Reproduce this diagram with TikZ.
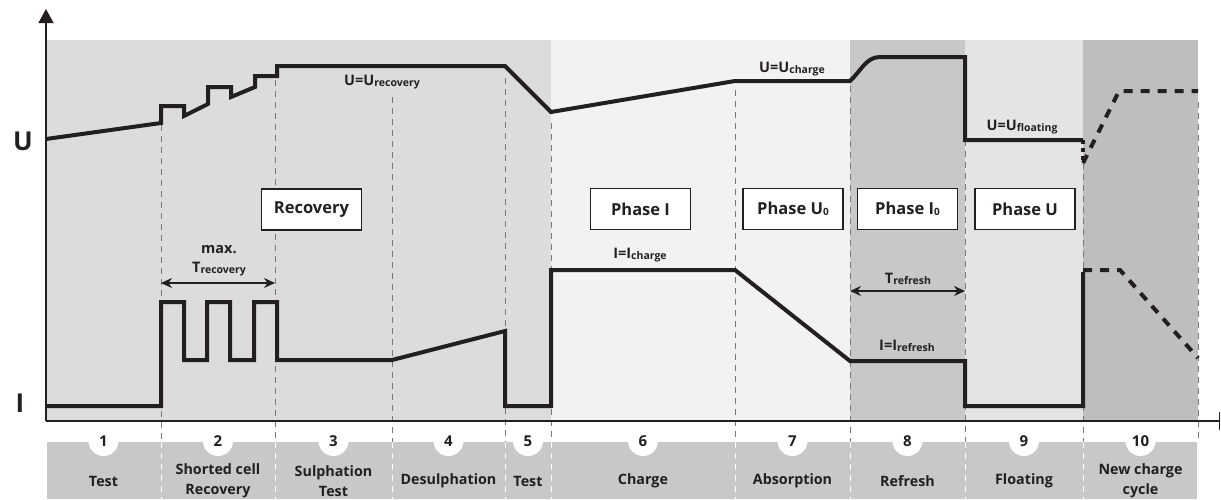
\documentclass[tikz,border=0pt]{standalone}
\usepackage{fontspec}
\setmainfont{Open Sans}
\usetikzlibrary{arrows.meta}
\definecolor{ink}{RGB}{35,31,32}
\definecolor{bgA}{RGB}{220,220,220}
\definecolor{bgB}{RGB}{242,242,242}
\definecolor{bgC}{RGB}{200,200,200}
\definecolor{bgD}{RGB}{228,228,228}
\definecolor{bgE}{RGB}{190,190,190}
\definecolor{barcol}{RGB}{200,200,200}
\definecolor{guidecol}{RGB}{120,120,120}
\newcommand{\lowtxt}[1]{{\fontsize{10.5}{11}\selectfont\raisebox{-0.8pt}{#1}}}
\newcommand{\lowbox}[1]{{\fontsize{10}{11}\selectfont\raisebox{-1.5pt}{#1}}}
\tikzset{
  curve/.style={line width=4pt, draw=ink, line join=miter},
  dashcurve/.style={curve, dash pattern=on 9pt off 8pt},
  dotcurve/.style={curve, dash pattern=on 4pt off 4pt},
  guide/.style={draw=guidecol, line width=1pt, dash pattern=on 6pt off 5pt},
  guidewhite/.style={draw=white, line width=1pt, dash pattern=on 6pt off 5pt},
  axisline/.style={draw=ink, line width=1.5pt},
  phasebox/.style={draw=ink, fill=white, line width=1.3pt, minimum width=100pt, minimum height=41pt, inner sep=0pt, text=ink, font=\fontsize{16.5}{16.5}\selectfont\bfseries},
  numcirc/.style={circle, fill=white, minimum size=30pt, inner sep=0pt, text=ink, font=\fontsize{15}{15}\selectfont\bfseries},
  barlabel/.style={align=center, text=ink, inner sep=0pt, font=\fontsize{14.3}{20}\selectfont\bfseries},
  curvelabel/.style={text=ink, inner sep=0pt, font=\fontsize{14.5}{16}\selectfont\bfseries},
  axislabel/.style={text=ink, inner sep=0pt, font=\fontsize{26}{26}\selectfont\bfseries},
  span/.style={draw=ink, line width=1.2pt, {Stealth[length=11pt,width=10pt]}-{Stealth[length=11pt,width=10pt]}},
}
\begin{document}
\begin{tikzpicture}[x=1pt,y=-1pt]
\useasboundingbox (0,0) rectangle (1221,499);
% region backgrounds
\fill[bgA] (46,40) rectangle (551,421);
\fill[bgB] (551,40) rectangle (850,421);
\fill[bgC] (850,40) rectangle (965,421);
\fill[bgD] (965,40) rectangle (1083,421);
\fill[bgE] (1083,40) rectangle (1198,421);
% bottom bar
\fill[barcol] (47,442) rectangle (1197,499);
% guide lines
\foreach \x/\y in {161/125, 275/80, 392/97, 505/78, 551/123, 735/90, 850/86, 965/140, 1083/163, 1198/102}{
  \draw[guide] (\x,\y) -- (\x,442);
}
\foreach \x in {161, 275, 392, 505, 551, 735, 850, 965, 1083}{
  \draw[guidewhite] (\x,442) -- (\x,499);
}
% axes
\coordinate (origin) at (46,421);
\coordinate (ytop) at (46,9);
\coordinate (xend) at (1220,421);
\draw[axisline, -{Triangle[width=15pt,length=14pt]}] (origin) -- (ytop);
\draw[axisline, -{Bar[width=18pt]}] (origin) -- (xend);
\node[axislabel] (ulab) at (23,141) {U};
\node[axislabel] (ilab) at (20,403) {I};
% phase boxes
\node[phasebox] (recbox) at (311.5,209.5) {Recovery};
\node[phasebox] (ph1) at (640.5,209) {Phase I};
\node[phasebox] (ph2) at (793,209) {Phase U\lowbox{0}};
\node[phasebox] (ph3) at (907.5,209) {Phase I\lowbox{0}};
\node[phasebox] (ph4) at (1025,209) {Phase U};
% voltage curve
\draw[curve] (46,139) -- (161,123) -- (161,106) -- (184,106) -- (184,116) -- (208,104) -- (208,87) -- (231,87) -- (231,97) -- (255,87) -- (255,76) -- (277,76) -- (277,66) -- (505,66) -- (551,112) -- (735,81) -- (850,81) .. controls (861,71) and (866,57) .. (880,57) -- (965,57) -- (965,140) -- (1083,140);
\draw[dotcurve] (1083,140) -- (1083,164);
\draw[dashcurve] (1083,163) -- (1119,91) -- (1198,91);
% current curve
\draw[curve] (46,406) -- (161,406) -- (161,302) -- (184,302) -- (184,360) -- (207,360) -- (207,302) -- (230,302) -- (230,360) -- (254,360) -- (254,302) -- (277,302) -- (277,360) -- (392,360) -- (505,331) -- (505,406) -- (551,406) -- (551,270) -- (735,270) -- (850,361) -- (965,361) -- (965,406) -- (1083,406) -- (1083,272);
\draw[dashcurve] (1083,270) -- (1120,270) -- (1198,358);
% curve labels
\node[curvelabel] (urec) at (382,82) {U=U\lowtxt{recovery}};
\node[curvelabel] (uchg) at (792,69) {U=U\lowtxt{charge}};
\node[curvelabel] (uflt) at (1022,127) {U=U\lowtxt{floating}};
\node[curvelabel] (ichg) at (640,255) {I=I\lowtxt{charge}};
\node[curvelabel] (iref) at (907,346) {I=I\lowtxt{refresh}};
\node[curvelabel] (maxl) at (219,250) {max.};
\node[curvelabel] (trec) at (219,269) {T\lowtxt{recovery}};
\node[curvelabel] (tref) at (908,279) {T\lowtxt{refresh}};
% spans
\coordinate (ra) at (161,283);
\coordinate (rb) at (275,283);
\coordinate (fa) at (850,291);
\coordinate (fb) at (965,291);
\draw[span] (ra) -- (rb);
\draw[span] (fa) -- (fb);
% number circles and bar labels
\foreach \i/\cx/\lab in {1/103.5/Test, 2/218/Shorted cell\\Recovery, 3/333.5/Sulphation\\Test, 4/448.5/Desulphation, 5/528/Test, 6/643/Charge, 7/792.5/Absorption, 8/907.5/Refresh, 9/1024/Floating, 10/1140.5/New charge\\cycle}{
  \node[numcirc] (n\i) at (\cx,441) {\i};
  \node[barlabel] (b\i) at (\cx,481) {\lab};
}
\end{tikzpicture}
\end{document}
